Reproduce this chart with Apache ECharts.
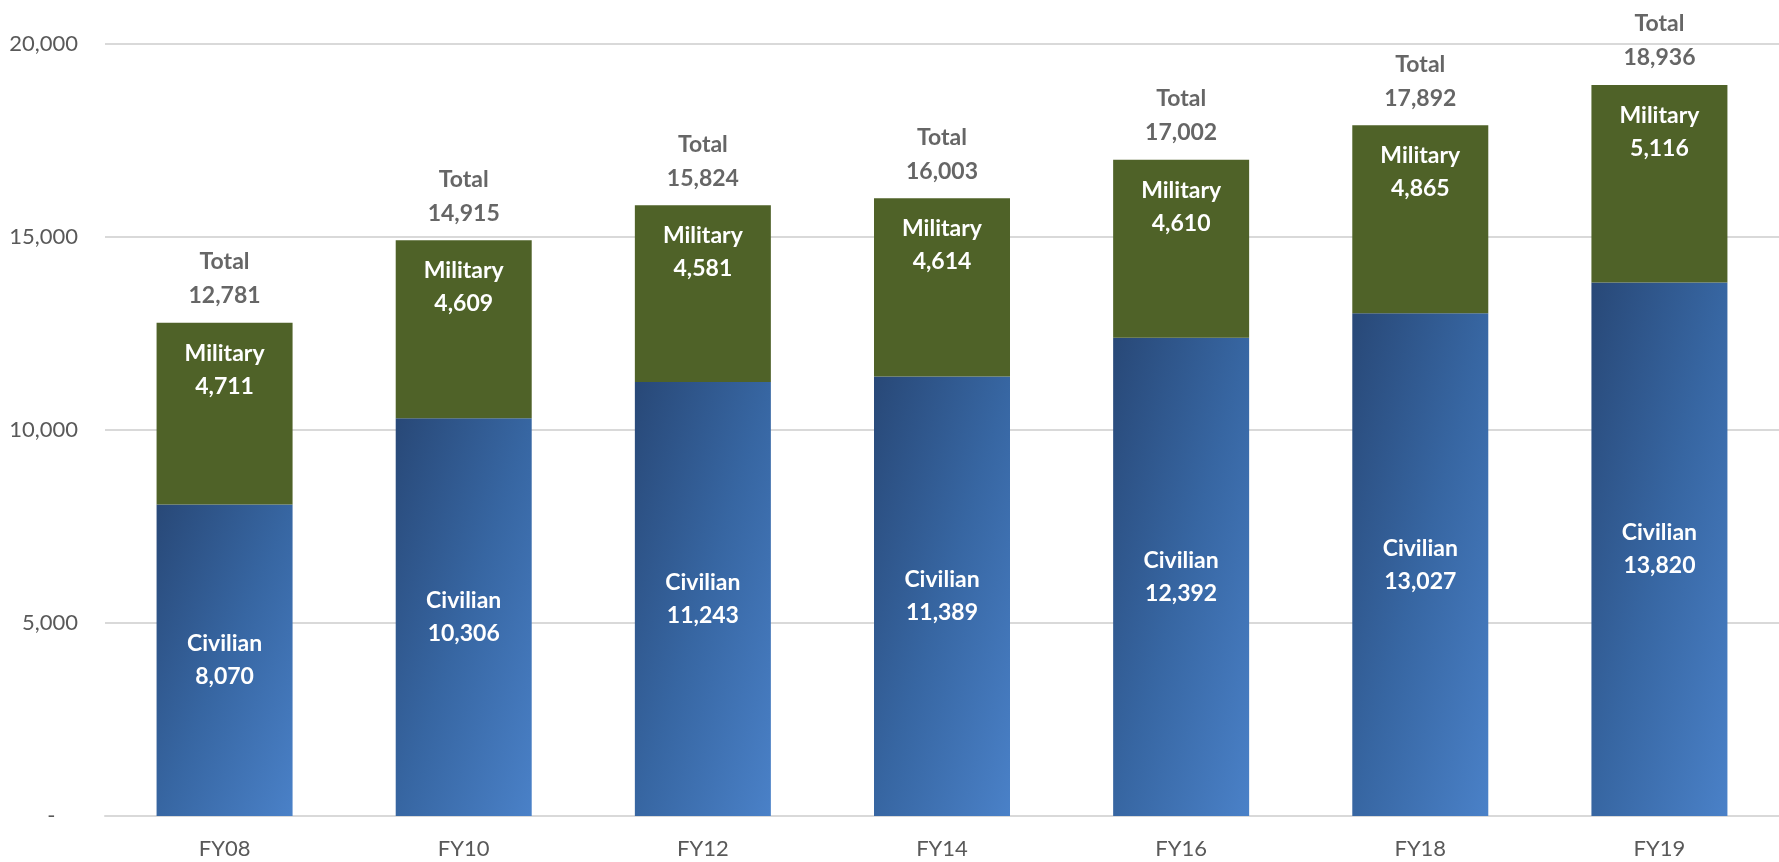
<!DOCTYPE html>
<html>
<head>
<meta charset="utf-8">
<script src="https://cdn.jsdelivr.net/npm/echarts@6/dist/echarts.min.js"></script>
<style>
  html, body { margin: 0; padding: 0; background: #fff; }
  #chart { width: 1779px; height: 862px; }
</style>
</head>
<body>
<div id="chart"></div>
<script>
const years = ["FY08", "FY10", "FY12", "FY14", "FY16", "FY18", "FY19"];
const civilian = [8070, 10306, 11243, 11389, 12392, 13027, 13820];
const military = [4711, 4609, 4581, 4614, 4610, 4865, 5116];
const totals = [12781, 14915, 15824, 16003, 17002, 17892, 18936];
const yTicks = [0, 5000, 10000, 15000, 20000];

const fontFam = "Lato, 'Open Sans', sans-serif";
const fmt = (v) => v.toLocaleString("en-US");

const BAR_W = 136;
const PLOT_H = 772;

// corner-to-corner gradient, top-right and bottom-left share the middle colour
function civGradient(p) {
  const h = (p.value / yTicks[yTicks.length - 1]) * PLOT_H;
  const w = BAR_W;
  const s = h * h + w * w;
  return new echarts.graphic.LinearGradient(0, 0, (2 * h * h) / s, (2 * w * w) / s, [
    { offset: 0, color: "#284877" },
    { offset: 0.5, color: "#3766a2" },
    { offset: 1, color: "#4a81c8" },
  ]);
}

const chart = echarts.init(document.getElementById("chart"));

const option = {
  backgroundColor: "#fff",
  animation: false,
  grid: { left: 105, right: 0, top: 44, bottom: 46 },
  xAxis: {
    type: "category",
    data: years,
    axisTick: { show: false },
    axisLine: { lineStyle: { color: "#d9d9d9", width: 2 } },
    axisLabel: { color: "#595959", fontSize: 22, fontFamily: fontFam, margin: 22 },
  },
  yAxis: {
    type: "value",
    min: yTicks[0],
    max: yTicks[yTicks.length - 1],
    interval: 5000,
    axisLine: { show: false },
    axisTick: { show: false },
    splitLine: { lineStyle: { color: "#d9d9d9", width: 2 } },
    axisLabel: {
      color: "#595959",
      fontSize: 22,
      fontFamily: fontFam,
      margin: 27,
      formatter: (v) => (v === 0 ? "-    " : fmt(v)),
    },
  },
  series: [
    {
      name: "Civilian",
      type: "bar",
      stack: "all",
      barWidth: BAR_W,
      data: civilian,
      itemStyle: { color: civGradient },
      label: {
        show: true,
        position: "inside",
        color: "#fff",
        fontWeight: "bold",
        fontSize: 23,
        lineHeight: 33,
        fontFamily: fontFam,
        formatter: (p) => "Civilian\n" + fmt(p.value),
      },
    },
    {
      name: "Military",
      type: "bar",
      stack: "all",
      barWidth: BAR_W,
      data: military,
      itemStyle: { color: "#4f6228" },
      label: {
        show: true,
        position: "insideTop",
        distance: 14,
        color: "#fff",
        fontWeight: "bold",
        fontSize: 23,
        lineHeight: 33,
        fontFamily: fontFam,
        formatter: (p) => "Military\n" + fmt(p.value),
      },
    },
    {
      name: "Total",
      type: "scatter",
      data: totals,
      symbolSize: 0,
      label: {
        show: true,
        position: "top",
        distance: 10,
        color: "#404040",
        fontWeight: "bold",
        fontSize: 23,
        lineHeight: 34,
        fontFamily: fontFam,
        formatter: (p) => "Total\n" + fmt(p.value),
      },
    },
  ],
};

chart.setOption(option);
</script>
</body>
</html>
